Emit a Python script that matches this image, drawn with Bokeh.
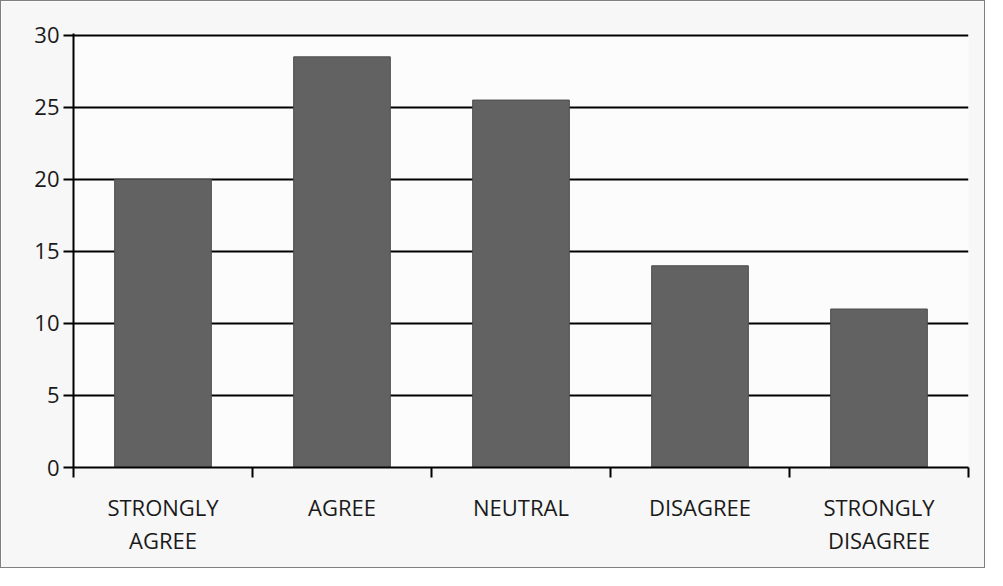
from bokeh.plotting import figure
from bokeh.models import ColumnDataSource, FixedTicker, Range1d
from bokeh.embed import file_html
from bokeh.resources import INLINE

categories = ["STRONGLY\nAGREE", "AGREE", "NEUTRAL", "DISAGREE", "STRONGLY\nDISAGREE"]
values = [20, 28.5, 25.5, 14, 11]
y_ticks = [0, 5, 10, 15, 20, 25, 30]

x_pos = [i + 0.5 for i in range(len(categories))]
bounds = list(range(len(categories) + 1))

source = ColumnDataSource(data=dict(x=x_pos, top=values, cat=categories))

p = figure(width=985, height=568, x_range=Range1d(0, len(categories)),
           y_range=Range1d(0, max(y_ticks) + 0.12), output_backend="svg",
           toolbar_location=None, min_border_left=72, min_border_right=18,
           min_border_top=32, min_border_bottom=102)

p.background_fill_color = "#fcfcfc"
p.border_fill_color = "#f7f7f7"
p.outline_line_color = None
p.styles = {"border": "1.5px solid #808080"}

p.vbar(x="x", top="top", width=0.54, source=source,
       fill_color="#626262", line_color="#4d4d4d", line_width=1)

font = "Open Sans"
# x axis
p.xaxis.ticker = FixedTicker(ticks=x_pos, minor_ticks=bounds)
p.xaxis.major_label_overrides = {xv: c for xv, c in zip(x_pos, categories)}
p.xaxis.major_tick_out = 0
p.xaxis.major_tick_in = 0
p.xaxis.minor_tick_out = 10
p.xaxis.minor_tick_in = 0
p.xaxis.minor_tick_line_color = "black"
p.xaxis.minor_tick_line_width = 2
p.xaxis.axis_line_color = "black"
p.xaxis.axis_line_width = 2
p.xaxis.major_label_text_font = font
p.xaxis.major_label_text_font_size = "22px"
p.xaxis.major_label_text_color = "#1a1a1a"
p.xaxis.major_label_text_line_height = 1.1
p.xaxis.major_label_standoff = 14

# y axis
p.yaxis.ticker = FixedTicker(ticks=y_ticks)
p.yaxis.major_tick_out = 10
p.yaxis.major_tick_in = 0
p.yaxis.minor_tick_line_color = None
p.yaxis.major_tick_line_color = "black"
p.yaxis.major_tick_line_width = 2
p.yaxis.axis_line_color = "black"
p.yaxis.axis_line_width = 2
p.yaxis.major_label_text_font = font
p.yaxis.major_label_text_font_size = "22px"
p.yaxis.major_label_text_color = "#1a1a1a"
p.yaxis.major_label_standoff = 4

p.xgrid.visible = False
p.ygrid.ticker = FixedTicker(ticks=y_ticks)
p.ygrid.grid_line_color = "black"
p.ygrid.grid_line_width = 2

open("out.html", "w").write(file_html(p, INLINE))
